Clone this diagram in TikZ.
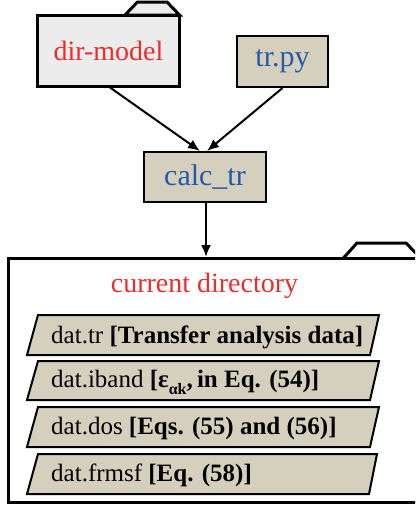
\documentclass[tikz,border=0pt]{standalone}
\usepackage{fontspec}
\setmainfont{Liberation Serif}
\newfontfamily\tnr{Liberation Serif}
\usetikzlibrary{arrows.meta}
\definecolor{txtred}{RGB}{237,45,45}
\definecolor{txtblue}{RGB}{40,88,168}
\definecolor{beige}{RGB}{213,208,190}
\definecolor{foldergray}{RGB}{236,236,236}
\begin{document}
\begin{tikzpicture}[x=1pt,y=-1pt,
  folderline/.style={line width=3pt, line join=miter},
  titlered/.style={text=txtred, font=\tnr\fontsize{28}{30}\selectfont},
  bluebox/.style={draw, line width=2pt, fill=beige, text=txtblue, inner sep=0pt,
    font=\tnr\fontsize{30}{32}\selectfont},
  databox/.style={draw, line width=2pt, fill=beige, line join=miter},
  datatext/.style={anchor=base west, inner sep=0pt, font=\tnr\fontsize{25}{27}\selectfont},
  arr/.style={line width=2pt, -{Latex[length=12pt,width=10pt]}}]
\clip (0,0) rectangle (415,506);
\fill[white] (0,0) rectangle (415,506);

% dir-model folder
\draw[folderline, fill=foldergray] (125,15) -- (137.5,2) -- (167,2) -- (179.5,15) -- cycle;
\node[draw, folderline, fill=foldergray, minimum width=142pt, minimum height=71pt,
  inner sep=0pt, titlered] (dm) at (108.5,50.5) {dir-model};

% tr.py
\node[bluebox, minimum width=91pt, minimum height=51pt] (tr) at (282.5,61.5) {tr.py};

% calc_tr
\node[bluebox, minimum width=122pt, minimum height=50pt] (calc) at (205,177) {calc\_tr};

% current directory folder
\draw[folderline] (343,258.5) -- (357,243) -- (406,243) -- (421,258.5);
\node[draw, folderline, minimum width=412pt, minimum height=243.5pt, inner sep=0pt]
  (cur) at (214,380.25) {};
\node[titlered, inner sep=0pt] (curtitle) at (204.5,286) {current directory};

% data files
\draw[databox] (38,315) -- (379,315) -- (370,355) -- (27,355) -- cycle;
\node[datatext] (d1) at (51,343) {dat.tr \textbf{[Transfer analysis data]}};

\draw[databox] (38,361) -- (379,361) -- (370,400) -- (27,400) -- cycle;
\node[datatext] (d2) at (51,387.5) {dat.iband \textbf{[ε\raisebox{-0.28em}{\fontsize{16}{16}\selectfont αk},\,in Eq. (54)]}};

\draw[databox] (38,407) -- (379,407) -- (370,447) -- (27,447) -- cycle;
\node[datatext] (d3) at (51,434) {dat.dos \textbf{[Eqs. (55) and (56)]}};

\draw[databox] (38,454) -- (377,454) -- (369,494) -- (27,494) -- cycle;
\node[datatext] (d4) at (51,481) {dat.frmsf \textbf{[Eq. (58)]}};

% connectors
\draw[arr] ([xshift=1.5pt]dm.south) -- ([xshift=-5pt]calc.north);
\draw[arr] (tr.south) -- ([xshift=2pt]calc.north);
\draw[arr] ([xshift=1pt]calc.south) -- ([xshift=-8pt]cur.north);
\end{tikzpicture}
\end{document}
